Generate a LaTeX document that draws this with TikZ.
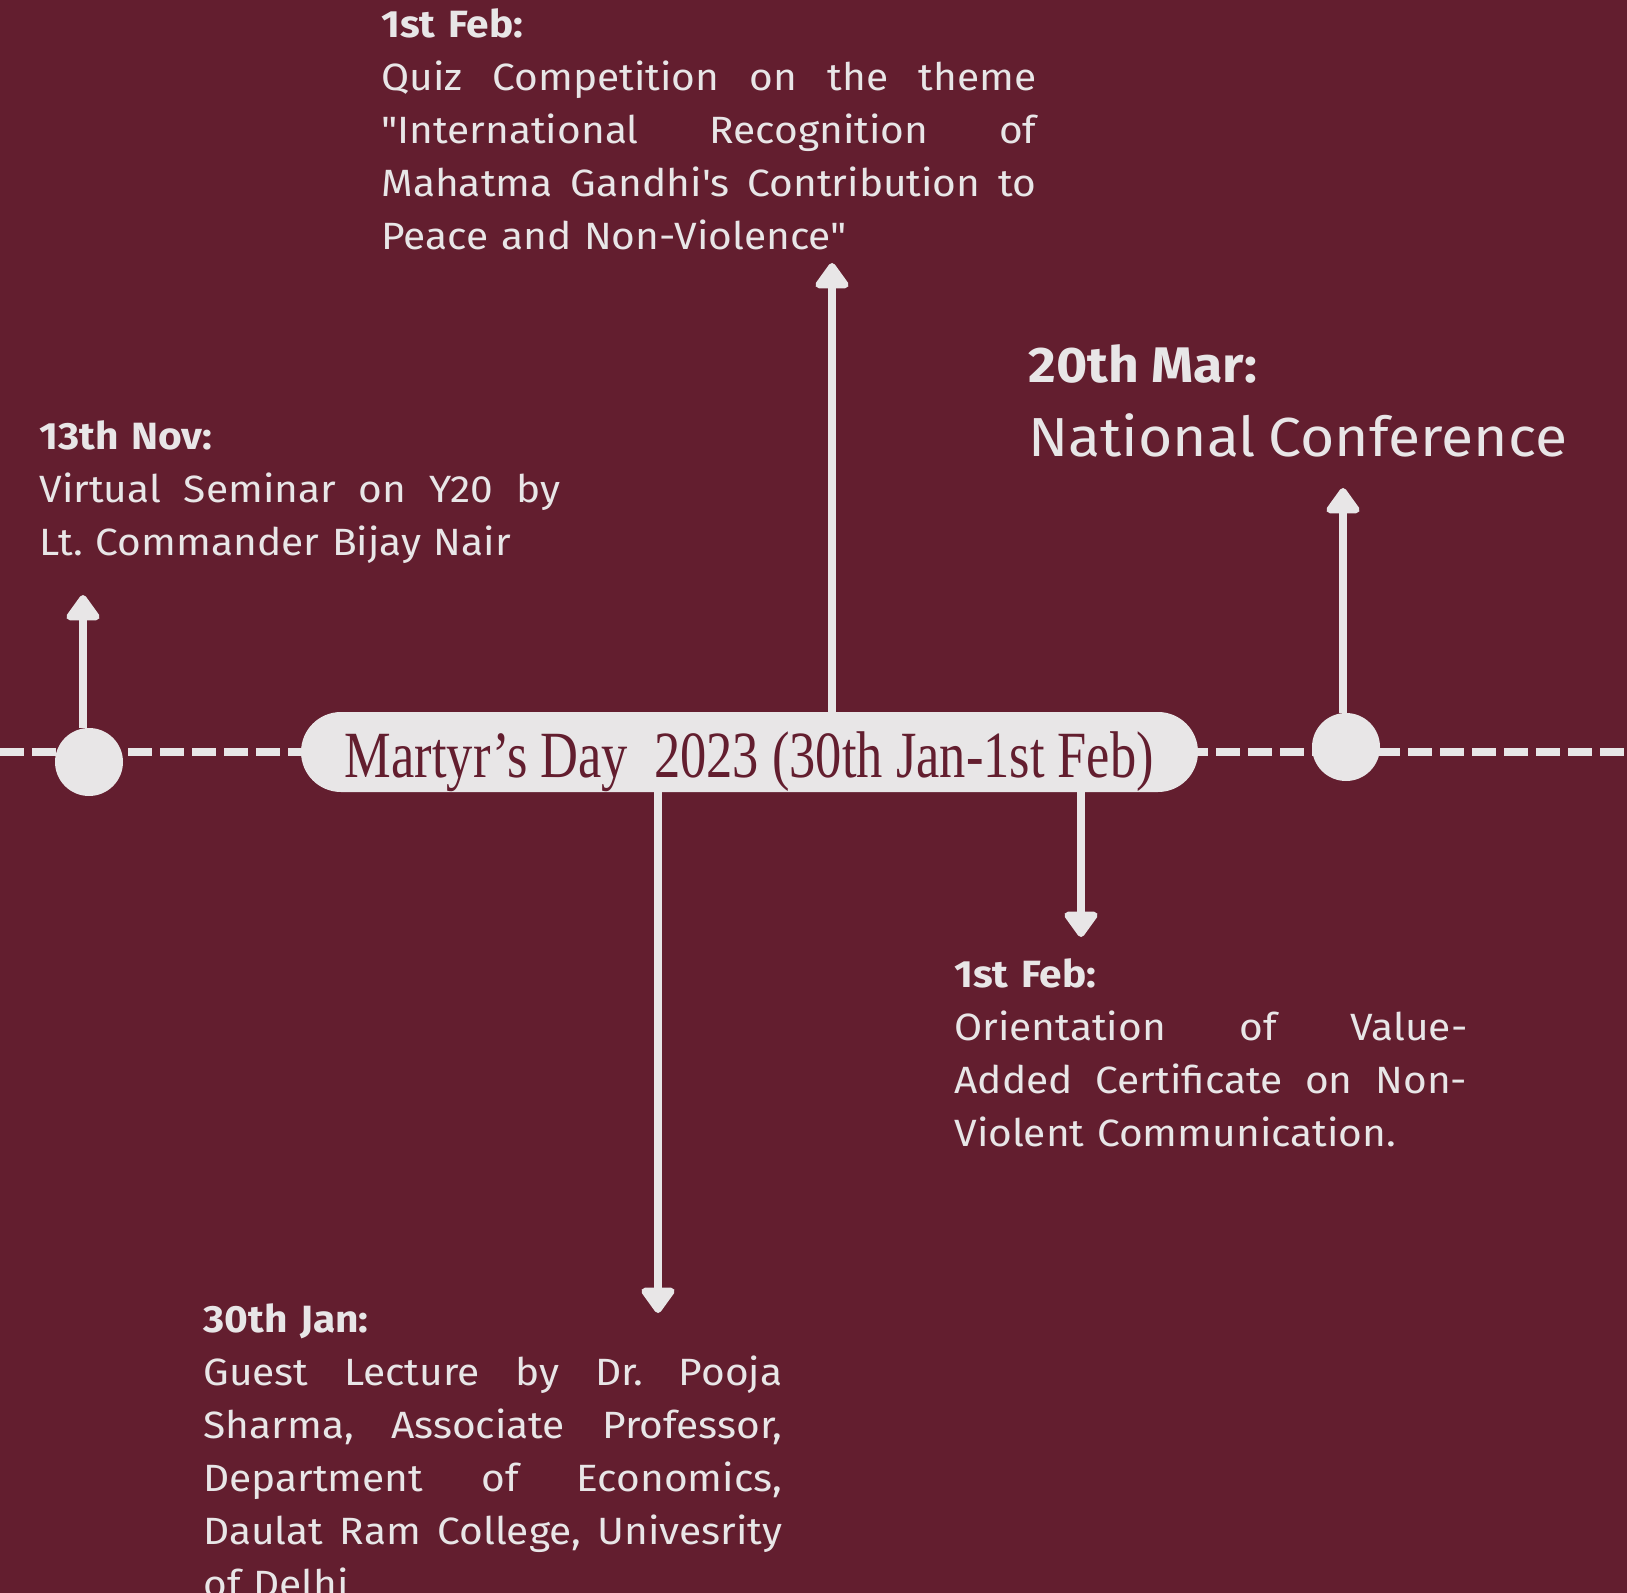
\documentclass[tikz,border=0pt]{standalone}
\usepackage{fontspec}
\setmainfont{Fira Sans}[Ligatures=TeXOff, FakeStretch=1.07]
\newfontfamily\titlefont{Liberation Serif}
\usepackage{graphicx}
\usetikzlibrary{arrows.meta}

\definecolor{wine}{HTML}{631E2F}
\definecolor{paper}{HTML}{E8E6E7}
% one justified line of an event text
\newcommand{\jl}[1]{\makebox[\evwidth][s]{\spaceskip=0pt\xspaceskip=0pt #1}\\}

\begin{document}
\begin{tikzpicture}[x=0.5pt, y=-0.5pt,
    event/.style={anchor=base west, inner sep=0pt, align=left, text=paper, text width=#1,
      execute at begin node={\def\evwidth{#1}\frenchspacing},
      font=\fontsize{19}{26.5}\selectfont},
    dot/.style={circle, fill=paper, minimum size=34pt, inner sep=0pt},
    link/.style={draw=paper, line width=4pt, -{Triangle[round, width=19pt, length=14pt]}}]
  \useasboundingbox (0,0) rectangle (1627,1593);
  \fill[wine] (0,0) rectangle (1627,1593);
  % dashed time line
  \coordinate (lineL) at (0,752);
  \coordinate (lineR) at (1627,752);
  \draw[paper, line width=4pt, dash pattern=on 12pt off 4pt] (lineL) -- (lineR);
  % main event in the middle
  \node[fill=paper, rounded corners=20pt, minimum width=448.5pt, minimum height=40pt,
    inner sep=0pt, text height=25pt, text depth=0pt, text=wine] (title) at (749.5,752)
    {\titlefont\fontsize{33}{33}\selectfont\resizebox{404.5pt}{\height}{Martyr’s Day\ \ 2023 (30th Jan-1st Feb)}};
  \node[dot] (nov) at (89,762) {};
  \node[dot] (mar) at (1346,747) {};

  % event texts
  \node[event=327.5pt] (quiz) at (381,38) {\textbf{1st Feb:}\\
    \jl{Quiz Competition on the theme}\jl{"International Recognition of}\jl{Mahatma Gandhi's Contribution to}Peace and Non-Violence"};
  \node[event=260.5pt] (seminar) at (39,450) {\textbf{13th Nov:}\\
    \jl{Virtual Seminar on Y20 by}Lt. Commander Bijay Nair};
  \node[event=300pt] (conf) at (1028,383) {{\bfseries\fontsize{25}{30}\selectfont 20th Mar:}\\[10.5pt]
    {\fontsize{27.5}{37}\selectfont National Conference}};
  \node[event=256.5pt] (orient) at (954,987) {\textbf{1st Feb:}\\
    \jl{Orientation of Value-}\jl{Added Certificate on Non-}Violent Communication.};
  \node[event=289.5pt] (lecture) at (203,1332) {\textbf{30th Jan:}\\
    \jl{Guest Lecture by Dr. Pooja}\jl{Sharma, Associate Professor,}\jl{Department of Economics,}\jl{Daulat Ram College, Univesrity}of Delhi};

  % arrows to the texts
  \coordinate (quiztip) at (832,263);
  \coordinate (lecturetip) at (658,1313);
  \coordinate (orienttip) at (1081,937);
  \coordinate (novtip) at (83,595);
  \coordinate (martip) at (1343,488);
  \draw[link] (title.north -| quiztip) -- (quiztip);
  \draw[link] (title.south -| lecturetip) -- (lecturetip);
  \draw[link] (title.south -| orienttip) -- (orienttip);
  \draw[link] (nov.north -| novtip) -- (novtip);
  \draw[link] (mar.north -| martip) -- (martip);
\end{tikzpicture}
\end{document}
